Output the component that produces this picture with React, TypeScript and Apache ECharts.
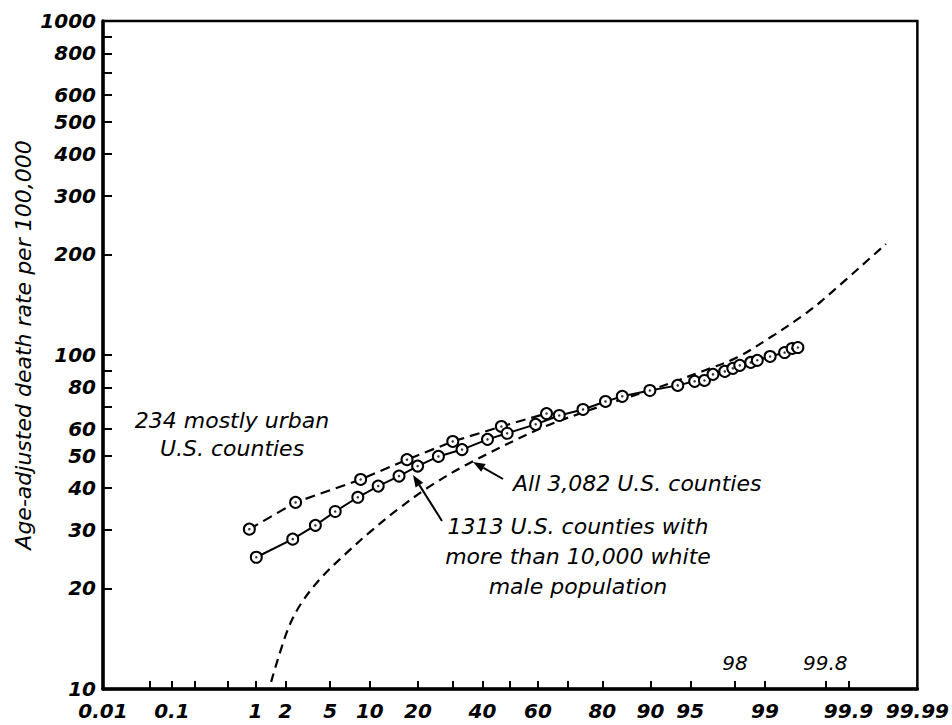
import React, { useEffect, useRef } from "react";
import * as echarts from "echarts";

// ---- data (percent of counties below, age-adjusted death rate per 100,000) ----
const urbanPct = [0.86, 2.5, 8.6, 17.3, 30, 46.8, 63];
const urbanRate = [30.1, 36.2, 42.4, 48.6, 55.1, 61.1, 66.8];

const whitePct = [1.02, 2.35, 3.76, 5.5, 8.2, 11.4, 15.5, 19.9, 25.6, 33, 41.8, 48.9, 59.2, 67.3, 74.7, 80.8, 84.7, 89.9, 93.7, 95.4, 96.2, 96.8, 97.5, 97.9, 98.2, 98.6, 98.8, 99.12, 99.39, 99.5, 99.57];
const whiteRate = [24.8, 28.1, 30.9, 34.0, 37.5, 40.5, 43.4, 46.5, 49.7, 52.1, 55.9, 58.3, 62.0, 65.9, 68.7, 72.6, 75.2, 78.3, 81.1, 83.4, 83.9, 87.5, 89.3, 91.2, 93.1, 95.0, 96.4, 99.0, 101.7, 104.6, 105.3];

const allPct = [1.45, 2.1, 2.8, 4.2, 6.5, 10, 15, 22.8, 35, 61, 75, 85, 90, 96.2, 98.1, 99.12, 99.62, 99.78, 99.97];
const allRate = [10.5, 15.0, 18.0, 21.5, 25.2, 29.5, 34.3, 40.2, 47.2, 60.3, 67.5, 74, 78.5, 89.9, 98.4, 112.8, 131, 145.5, 215];

const xLabelPct = [0.01, 0.1, 1, 2, 5, 10, 20, 40, 60, 80, 90, 95, 99, 99.9, 99.99];
const xLabelText = ["0.01", "0.1", "1", "2", "5", "10", "20", "40", "60", "80", "90", "95", "99", "99.9", "99.99"];
const xInnerLabelPct = [98, 99.8];
const xInnerLabelText = ["98", "99.8"];
const xTickPct = [0.05, 0.1, 0.2, 0.5, 1, 2, 5, 10, 20, 30, 40, 50, 60, 70, 80, 90, 95, 98, 99, 99.8, 99.9];

const yTickVals = [10, 20, 30, 40, 50, 60, 70, 80, 90, 100, 200, 300, 400, 500, 600, 700, 800, 900, 1000];
const yLabelVals = [10, 20, 30, 40, 50, 60, 80, 100, 200, 300, 400, 500, 600, 800, 1000];

// inverse normal CDF (Acklam) - maps percentages onto probability-paper scale
function probit(p: number): number {
  const a = [-3.969683028665376e1, 2.209460984245205e2, -2.759285104469687e2, 1.38357751867269e2, -3.066479806614716e1, 2.506628277459239];
  const b = [-5.447609879822406e1, 1.615858368580409e2, -1.556989798598866e2, 6.680131188771972e1, -1.328068155288572e1];
  const c = [-7.784894002430293e-3, -3.223964580411365e-1, -2.400758277161838, -2.549732539343734, 4.374664141464968, 2.938163982698783];
  const d = [7.784695709041462e-3, 3.224671290700398e-1, 2.445134137142996, 3.754408661907416];
  const plow = 0.02425;
  if (p < plow) {
    const q = Math.sqrt(-2 * Math.log(p));
    return (((((c[0] * q + c[1]) * q + c[2]) * q + c[3]) * q + c[4]) * q + c[5]) / ((((d[0] * q + d[1]) * q + d[2]) * q + d[3]) * q + 1);
  }
  if (p <= 1 - plow) {
    const q = p - 0.5;
    const r = q * q;
    return ((((((a[0] * r + a[1]) * r + a[2]) * r + a[3]) * r + a[4]) * r + a[5]) * q) / (((((b[0] * r + b[1]) * r + b[2]) * r + b[3]) * r + b[4]) * r + 1);
  }
  const q = Math.sqrt(-2 * Math.log(1 - p));
  return -(((((c[0] * q + c[1]) * q + c[2]) * q + c[3]) * q + c[4]) * q + c[5]) / ((((d[0] * q + d[1]) * q + d[2]) * q + d[3]) * q + 1);
}
const zOf = (pct: number) => probit(pct / 100);
const pts = (pct: number[], rate: number[]) => pct.map((p, i) => [zOf(p), Math.log10(rate[i])]);

const FONT = '"DejaVu Sans", "Liberation Sans", Arial, sans-serif';

function arrow(x1: number, y1: number, x2: number, y2: number) {
  const ang = Math.atan2(y2 - y1, x2 - x1);
  const L = 12, W = 4.5;
  const bx = x2 - L * Math.cos(ang), by = y2 - L * Math.sin(ang);
  const px = -Math.sin(ang) * W, py = Math.cos(ang) * W;
  return [
    { type: "line", shape: { x1, y1, x2: bx, y2: by }, style: { stroke: "#000", lineWidth: 2 } },
    { type: "polygon", shape: { points: [[x2, y2], [bx + px, by + py], [bx - px, by - py]] }, style: { fill: "#000" } },
  ];
}

function txt(text: string, x: number, y: number, align = "center", size = 22, rotation = 0) {
  return {
    type: "text",
    x,
    y,
    rotation,
    style: { text, fill: "#000", font: `italic ${size}px ${FONT}`, textAlign: align, textVerticalAlign: "middle" },
  };
}

export default function App() {
  const ref = useRef<HTMLDivElement>(null);
  useEffect(() => {
    if (!ref.current) return;
    const chart = echarts.init(ref.current, undefined, { renderer: "svg" });
    const zMin = zOf(0.01), zMax = zOf(99.99);
    const findLabel = (v: number, pcts: number[], texts: string[]) => {
      for (let i = 0; i < pcts.length; i++) if (Math.abs(zOf(pcts[i]) - v) < 1e-6) return texts[i];
      return "";
    };
    const labelFont = { fontFamily: FONT, fontSize: 20, fontStyle: "italic", fontWeight: "bold", color: "#000" } as any;
    const circle = { color: "#fff", borderColor: "#000", borderWidth: 2 };
    chart.setOption({
      animation: false,
      backgroundColor: "#fff",
      grid: { left: 103, right: 23, top: 21, bottom: 36, show: true, borderColor: "#000", borderWidth: 2.5, backgroundColor: "transparent" },
      xAxis: [
        {
          type: "value", min: zMin, max: zMax, position: "bottom",
          axisLine: { show: true, onZero: false, lineStyle: { color: "#000", width: 3.5 } },
          axisTick: { show: true, inside: true, length: 8, customValues: xTickPct.map(zOf), lineStyle: { color: "#000", width: 2 } },
          axisLabel: { ...labelFont, margin: 12, customValues: xLabelPct.map(zOf), formatter: (v: number) => findLabel(v, xLabelPct, xLabelText), showMinLabel: true, showMaxLabel: true },
          splitLine: { show: false },
        },
        {
          type: "value", min: zMin, max: zMax, position: "bottom",
          axisLine: { show: false, onZero: false }, axisTick: { show: false },
          axisLabel: { ...labelFont, fontWeight: "normal", inside: true, margin: 16, customValues: xInnerLabelPct.map(zOf), formatter: (v: number) => findLabel(v, xInnerLabelPct, xInnerLabelText) },
          splitLine: { show: false },
        },
      ],
      yAxis: {
        type: "value", min: 1, max: 3,
        axisLine: { show: true, onZero: false, lineStyle: { color: "#000", width: 3.5 } },
        axisTick: { show: true, inside: true, length: 9, customValues: yTickVals.map(Math.log10), lineStyle: { color: "#000", width: 2 } },
        axisLabel: { ...labelFont, margin: 7, customValues: yLabelVals.map(Math.log10), formatter: (v: number) => String(Math.round(Math.pow(10, v))), showMinLabel: true, showMaxLabel: true },
        splitLine: { show: false },
      },
      series: [
        {
          type: "line", name: "All 3,082 U.S. counties", data: pts(allPct, allRate), smooth: 0.35, showSymbol: false, symbol: "none",
          lineStyle: { color: "#000", width: 2.2, type: [9, 6] }, z: 2,
        },
        {
          type: "line", name: "234 mostly urban U.S. counties", data: pts(urbanPct, urbanRate), symbol: "circle", symbolSize: 11,
          itemStyle: circle, lineStyle: { color: "#000", width: 2.2, type: [10, 6] }, z: 3,
        },
        {
          type: "line", name: "1313 U.S. counties", data: pts(whitePct, whiteRate), symbol: "circle", symbolSize: 11,
          itemStyle: circle, lineStyle: { color: "#000", width: 2 }, z: 3,
        },
        {
          type: "scatter", data: pts(urbanPct, urbanRate).concat(pts(whitePct, whiteRate)), symbolSize: 2.5,
          itemStyle: { color: "#000" }, z: 4, silent: true,
        },
      ],
      graphic: [
        txt("Age-adjusted death rate per 100,000", 23, 345, "center", 22, Math.PI / 2),
        txt("234 mostly urban", 232, 420),
        txt("U.S. counties", 232, 448),
        txt("All 3,082 U.S. counties", 513, 483, "left"),
        txt("1313 U.S. counties with", 578, 526),
        txt("more than 10,000 white", 578, 556),
        txt("male population", 578, 586),
        ...arrow(503, 479, 473, 462),
        ...arrow(442, 521, 413, 475),
      ],
    });
    return () => chart.dispose();
  }, []);
  return <div ref={ref} style={{ position: "absolute", left: 0, top: 0, width: 952, height: 725, background: "#fff" }} />;
}
